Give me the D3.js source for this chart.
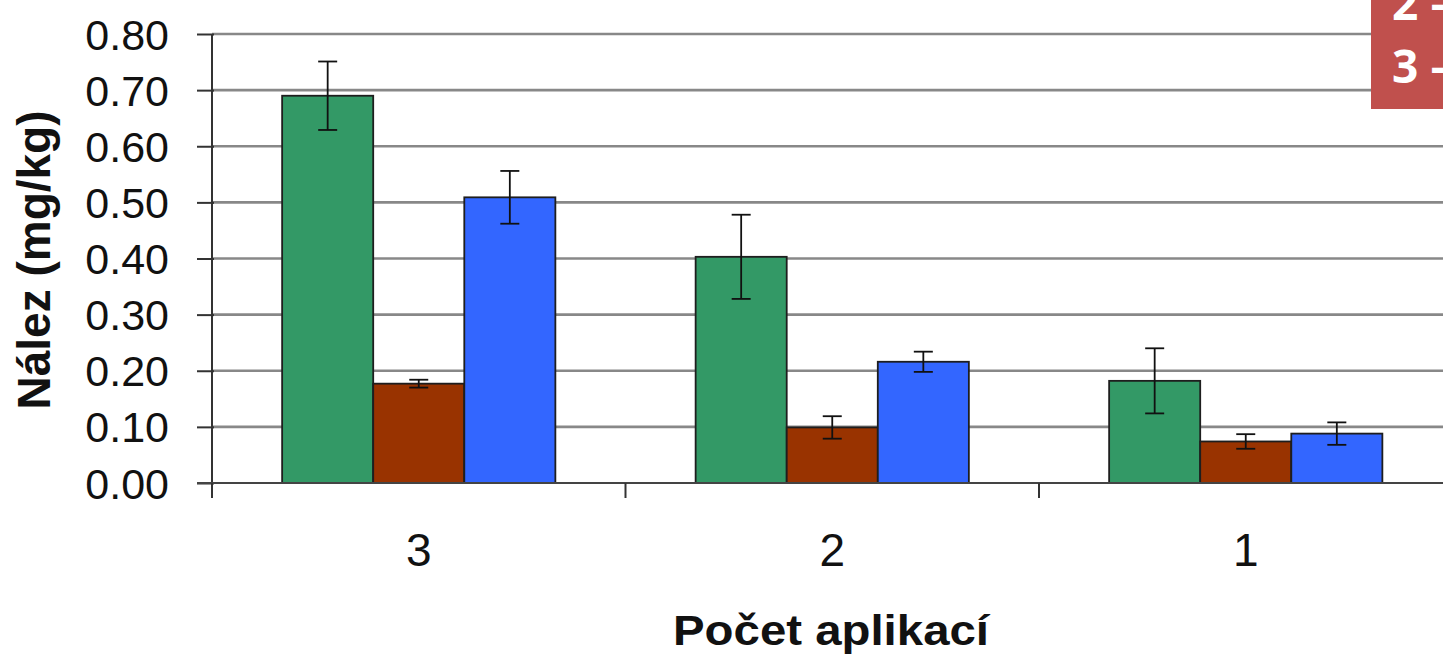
<!DOCTYPE html>
<html>
<head>
<meta charset="utf-8">
<script src="https://cdn.jsdelivr.net/npm/d3@7/dist/d3.min.js"></script>
<style>
  html, body { margin: 0; padding: 0; background: #fff; overflow: hidden; }
  svg { display: block; }
</style>
</head>
<body>
<svg id="chart" width="1443" height="656"></svg>
<script>
// ---- data ----
const categories = ["3", "2", "1"];
const seriesNames = ["A", "B", "C"];
const seriesColors = ["#339966", "#993300", "#3366FF"];
const valuesA = [0.690, 0.403, 0.182];
const valuesB = [0.177, 0.099, 0.074];
const valuesC = [0.509, 0.216, 0.088];
const errorsA = [0.061, 0.075, 0.058];
const errorsB = [0.007, 0.020, 0.013];
const errorsC = [0.047, 0.018, 0.020];
const yTicks = [0, 0.1, 0.2, 0.3, 0.4, 0.5, 0.6, 0.7, 0.8];
const legendLines = ["2 \u2013", "3 \u2013"];

const seriesValues = [valuesA, valuesB, valuesC];
const seriesErrors = [errorsA, errorsB, errorsC];

const svg = d3.select("#chart");
const pLeft = 212, pTop = 34, pBottom = 483;

const y = d3.scaleLinear().domain([0, 0.8]).range([pBottom, pTop]);
const x0 = d3.scaleBand().domain(categories).range([pLeft, pLeft + 3 * 413.5]).paddingInner(0).paddingOuter(0);
const x1 = d3.scaleBand().domain(seriesNames).range([0, x0.bandwidth()]).paddingInner(0).paddingOuter(0.77);

// gridlines
svg.append("g").selectAll("line").data(yTicks.filter(d => d > 0)).join("line")
  .attr("x1", pLeft).attr("x2", 1443)
  .attr("y1", d => y(d)).attr("y2", d => y(d))
  .attr("stroke", "#888").attr("stroke-width", 2.6);

// bars
const groups = svg.append("g").selectAll("g").data(categories).join("g")
  .attr("transform", d => `translate(${x0(d)},0)`);

seriesNames.forEach((s, si) => {
  groups.append("rect")
    .attr("x", x1(s))
    .attr("y", (d, i) => y(seriesValues[si][i]))
    .attr("width", x1.bandwidth())
    .attr("height", (d, i) => y(0) - y(seriesValues[si][i]))
    .attr("fill", seriesColors[si])
    .attr("stroke", "#1e1e1e").attr("stroke-width", 1.8);
});

// error bars
seriesNames.forEach((s, si) => {
  groups.each(function(d, i) {
    const g = d3.select(this);
    const cx = x1(s) + x1.bandwidth() / 2;
    const v = seriesValues[si][i], e = seriesErrors[si][i];
    const eg = g.append("g").attr("stroke", "#111").attr("stroke-width", 1.8);
    eg.append("line").attr("x1", cx).attr("x2", cx).attr("y1", y(v + e)).attr("y2", y(v - e));
    eg.append("line").attr("x1", cx - 9.5).attr("x2", cx + 9.5).attr("y1", y(v + e)).attr("y2", y(v + e));
    eg.append("line").attr("x1", cx - 9.5).attr("x2", cx + 9.5).attr("y1", y(v - e)).attr("y2", y(v - e));
  });
});

// y axis
const yAxis = d3.axisLeft(y).tickValues(yTicks).tickFormat(d3.format(".2f")).tickSize(15).tickPadding(28);
const ya = svg.append("g").attr("transform", `translate(${pLeft},0)`).call(yAxis);
ya.select(".domain").attr("stroke", "#333").attr("stroke-width", 2).attr("d", `M0,${pTop}V${pBottom}`);
ya.selectAll(".tick line").attr("stroke", "#333").attr("stroke-width", 2).attr("x2", -15).attr("x1", 2);
ya.selectAll(".tick text").attr("font-family", "Liberation Sans, Arial, sans-serif").attr("font-size", 43).attr("fill", "#111").attr("dy", "0.35em");

// x axis
const xAxis = d3.axisBottom(x0).tickSize(0).tickPadding(0);
const xa = svg.append("g").attr("transform", `translate(0,${pBottom})`).call(xAxis);
xa.select(".domain").attr("stroke", "#444").attr("stroke-width", 2).attr("d", `M${pLeft - 15},0H1443`);
xa.selectAll(".tick text").attr("font-family", "Liberation Sans, Arial, sans-serif").attr("font-size", 46)
  .attr("fill", "#111").attr("y", 83).attr("dy", 0);
// category separator ticks
svg.append("g").selectAll("line").data(categories).join("line")
  .attr("x1", d => x0(d)).attr("x2", d => x0(d))
  .attr("y1", pBottom).attr("y2", pBottom + 15)
  .attr("stroke", "#333").attr("stroke-width", 2);

// axis titles
svg.append("text")
  .attr("transform", `translate(50,260) rotate(-90)`)
  .attr("text-anchor", "middle")
  .attr("font-family", "Liberation Sans, Arial, sans-serif").attr("font-weight", "bold")
  .attr("font-size", 46).attr("fill", "#111")
  .text("Nález (mg/kg)");

svg.append("text")
  .attr("x", 831).attr("y", 645)
  .attr("text-anchor", "middle")
  .attr("font-family", "Liberation Sans, Arial, sans-serif").attr("font-weight", "bold")
  .attr("font-size", 43).attr("fill", "#111")
  .attr("textLength", 316).attr("lengthAdjust", "spacingAndGlyphs")
  .text("Počet aplikací");

// legend fragment (red box, top right), cut off by the image edge as in the reference
svg.append("rect").attr("x", 1371).attr("y", 0).attr("width", 80).attr("height", 109).attr("fill", "#c0504d");
svg.append("g").selectAll("text").data(legendLines).join("text")
  .attr("x", 1392).attr("y", (d, i) => 20 + i * 63)
  .attr("font-family", "Open Sans, sans-serif").attr("font-weight", "bold")
  .attr("font-size", 46).attr("fill", "#fff")
  .attr("xml:space", "preserve")
  .text(d => d);
</script>
</body>
</html>
